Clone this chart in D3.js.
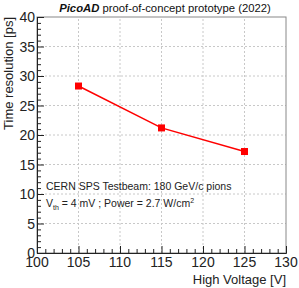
<!DOCTYPE html>
<html>
<head>
<meta charset="utf-8">
<script src="https://cdn.jsdelivr.net/npm/d3@7"></script>
<style>
  body { margin: 0; background: #fff; }
  text { font-family: "Liberation Sans", Arial, sans-serif; }
</style>
</head>
<body>
<svg width="299" height="288"></svg>
<script>
// data
const voltages = [105, 115, 125];
const timeRes = [28.3, 21.2, 17.2];
const timeErr = [0.5, 0.45, 0.25];
const xTicks = [100, 105, 110, 115, 120, 125, 130];
const yTicks = [0, 5, 10, 15, 20, 25, 30, 35, 40];

let svg = d3.select("svg"),
	margin = {left: 37, right: 13, top: 17, bottom: 35},
	width = +svg.attr("width"),
	height = +svg.attr("height");

let x = d3.scaleLinear().domain([100, 130]).range([margin.left, width - margin.right]);
let y = d3.scaleLinear().domain([0, 40]).range([height - margin.bottom, margin.top]);

// grid
svg.append("g").selectAll("line")
	.data(xTicks.slice(1, -1)).enter().append("line")
	.attr("x1", d => x(d)).attr("x2", d => x(d))
	.attr("y1", y(0)).attr("y2", y(40))
	.attr("stroke", "#c8c8c8").attr("stroke-dasharray", "2,2");
svg.append("g").selectAll("line")
	.data(yTicks.slice(1, -1)).enter().append("line")
	.attr("y1", d => y(d)).attr("y2", d => y(d))
	.attr("x1", x(100)).attr("x2", x(130))
	.attr("stroke", "#c8c8c8").attr("stroke-dasharray", "2,2");

// frame
svg.append("rect")
	.attr("x", x(100)).attr("y", y(40))
	.attr("width", x(130) - x(100)).attr("height", y(0) - y(40))
	.attr("fill", "none").attr("stroke", "#888").attr("stroke-width", 1);

// axes (ticks inside)
let xAxis = svg.append("g").attr("transform", "translate(0," + y(0) + ")")
	.call(d3.axisBottom(x).tickValues(d3.range(100, 131, 1)).tickSize(-4).tickFormat(""));
xAxis.selectAll(".tick line").filter(d => d % 5 === 0).attr("y2", -7);
let yAxis = svg.append("g").attr("transform", "translate(" + x(100) + ",0)")
	.call(d3.axisLeft(y).tickValues(d3.range(0, 41, 1)).tickSize(-4).tickFormat(""));
yAxis.selectAll(".tick line").filter(d => d % 5 === 0).attr("x2", 7);
svg.selectAll(".domain").attr("stroke", "#222");
svg.selectAll(".tick line").attr("stroke", "#222");

// tick labels
svg.append("g").selectAll("text")
	.data(xTicks).enter().append("text")
	.attr("x", d => x(d)).attr("y", y(0) + 14)
	.attr("text-anchor", "middle")
	.style("font-size", "14px").attr("fill", "#222")
	.text(d => d);
svg.append("g").selectAll("text")
	.data(yTicks).enter().append("text")
	.attr("x", x(100) - 2).attr("y", d => y(d) + 5)
	.attr("text-anchor", "end")
	.style("font-size", "14px").attr("fill", "#222")
	.text(d => d);

// axis titles
svg.append("text")
	.attr("x", x(130)).attr("y", height - 4)
	.attr("text-anchor", "end")
	.style("font-size", "13px").attr("fill", "#222")
	.text("High Voltage [V]");
svg.append("text")
	.attr("transform", "translate(13," + y(40) + ") rotate(-90)")
	.attr("text-anchor", "end")
	.style("font-size", "13px").attr("fill", "#222")
	.text("Time resolution [ps]");

// title
let title = svg.append("text")
	.attr("x", 165).attr("y", 12)
	.attr("text-anchor", "middle")
	.style("font-size", "11.3px").attr("fill", "#111");
title.append("tspan").style("font-weight", "bold").style("font-style", "italic").text("PicoAD");
title.append("tspan").text(" proof-of-concept prototype (2022)");

// annotations
svg.append("text")
	.attr("x", 46).attr("y", 190)
	.style("font-size", "10.5px").attr("fill", "#222")
	.text("CERN SPS Testbeam: 180 GeV/c pions");
let note = svg.append("text")
	.attr("x", 46).attr("y", 207)
	.style("font-size", "10.5px").attr("fill", "#222");
note.append("tspan").text("V");
note.append("tspan").attr("dy", 3).style("font-size", "7px").text("th");
note.append("tspan").attr("dy", -3).text(" = 4 mV ; Power = 2.7 W/cm");
note.append("tspan").attr("dy", -4).style("font-size", "7px").text("2");

// data line
let pts = voltages.map((v, i) => ({v: v, t: timeRes[i], e: timeErr[i]}));
svg.append("path")
	.datum(pts)
	.attr("fill", "none").attr("stroke", "#ff0000").attr("stroke-width", 1.5)
	.attr("d", d3.line().x(d => x(d.v)).y(d => y(d.t)));

svg.append("g").selectAll("line")
	.data(pts).enter().append("line")
	.attr("x1", d => x(d.v)).attr("x2", d => x(d.v))
	.attr("y1", d => y(d.t - d.e)).attr("y2", d => y(d.t + d.e))
	.attr("stroke", "#ff0000").attr("stroke-width", 1.5);

svg.append("g").selectAll("rect")
	.data(pts).enter().append("rect")
	.attr("x", d => x(d.v) - 3.5).attr("y", d => y(d.t) - 3.5)
	.attr("width", 7).attr("height", 7)
	.attr("fill", "#ff0000");
</script>
</body>
</html>
